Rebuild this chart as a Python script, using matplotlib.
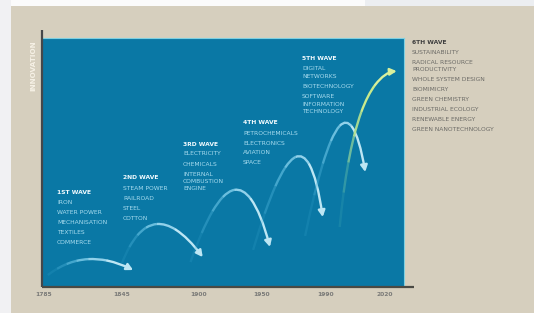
import numpy as np
import matplotlib
matplotlib.use("Agg")
import matplotlib.pyplot as plt
from matplotlib.path import Path
from matplotlib.patches import PathPatch, FancyArrowPatch, Rectangle
from matplotlib.transforms import IdentityTransform
from matplotlib.bezier import split_de_casteljau

# ---------------- data ----------------
tick_years = [1785, 1845, 1900, 1950, 1990, 2020]
wave_names = ["1ST WAVE", "2ND WAVE", "3RD WAVE", "4TH WAVE", "5TH WAVE", "6TH WAVE"]
wave_items = [
    ["IRON", "WATER POWER", "MECHANISATION", "TEXTILES", "COMMERCE"],
    ["STEAM POWER", "RAILROAD", "STEEL", "COTTON"],
    ["ELECTRICITY", "CHEMICALS", "INTERNAL\nCOMBUSTION\nENGINE"],
    ["PETROCHEMICALS", "ELECTRONICS", "AVIATION", "SPACE"],
    ["DIGITAL\nNETWORKS", "BIOTECHNOLOGY", "SOFTWARE\nINFORMATION\nTECHNOLOGY"],
    ["SUSTAINABILITY", "RADICAL RESOURCE\nPRODUCTIVITY", "WHOLE SYSTEM DESIGN",
     "BIOMIMICRY", "GREEN CHEMISTRY", "INDUSTRIAL ECOLOGY", "RENEWABLE ENERGY",
     "GREEN NANOTECHNOLOGY"],
]
start_year = [1788, 1845, 1894, 1943, 1977, 1997]
start_level = [4.8, 9.6, 10.0, 14.9, 20.5, 24.1]
mid_year = [1819, 1870, 1928, 1971, 1997, 2008]
mid_level = [11.2, 25.3, 39.0, 52.2, 64.7, 70.3]
end_year = [1853, 1903, 1955, 1988, 2010, 2026]
end_level = [6.8, 12.0, 16.1, 28.1, 46.2, 86.7]
y_label = "INNOVATION"

# ---------------- figure ----------------
W, H = 534, 313
BEIGE = "#d6cfbe"
BLUE = "#0a78a5"
fig = plt.figure(figsize=(W / 100, H / 100), dpi=100, facecolor=BEIGE)

# screenshot margins
fig.patches.append(Rectangle((0, 1 - 6 / H), 365 / W, 6 / H, transform=fig.transFigure,
                             facecolor="#fbfbfb", edgecolor="none", zorder=0))
fig.patches.append(Rectangle((365 / W, 1 - 6 / H), 1, 6 / H, transform=fig.transFigure,
                             facecolor="#eceef1", edgecolor="none", zorder=0))
fig.patches.append(Rectangle((0, 0), 11 / W, 1, transform=fig.transFigure,
                             facecolor="#f1f1f3", edgecolor="none", zorder=0))

ax_l, ax_r, ax_t, ax_b = 42, 404, 38, 287
ax = fig.add_axes([ax_l / W, 1 - ax_b / H, (ax_r - ax_l) / W, (ax_b - ax_t) / H])
ax.set_facecolor(BLUE)

# piecewise-linear time axis (ticks are not evenly spaced in years)
_ky = np.array([1700, 1785, 1845, 1900, 1950, 1990, 2020, 2100], dtype=float)
_kp = np.array([-66.5, 44, 122, 199, 262, 326, 385, 542.5], dtype=float)


def fwd(x):
    return np.interp(x, _ky, _kp)


def inv(p):
    return np.interp(p, _kp, _ky)


ax.set_xscale("function", functions=(fwd, inv))
ax.set_xlim(1783.5, 2029.7)
ax.set_ylim(0, 100)
ax.set_yticks([])
ax.set_xticks(tick_years)
ax.set_xticklabels([str(y) for y in tick_years], fontsize=4.3, color="#7a7a78",
                   fontweight="bold")
ax.tick_params(axis="x", length=0, pad=3.5)
ax.xaxis.set_minor_locator(matplotlib.ticker.NullLocator())

for s in ["left", "bottom"]:
    ax.spines[s].set_visible(False)
for s in ["top", "right"]:
    ax.spines[s].set_color("#7fd0e2")
    ax.spines[s].set_linewidth(0.8)

ax.plot([0, 0], [0, 1 + 8 / 249], transform=ax.transAxes, color="#45474a", lw=1.6,
        clip_on=False, solid_capstyle="butt", zorder=5)
ax.plot([0, 1 + 10 / 362], [0, 0], transform=ax.transAxes, color="#4a4a44", lw=1.6,
        clip_on=False, solid_capstyle="butt", zorder=5)

fig.text(33 / W, 1 - 40 / H, y_label, rotation=90, ha="center", va="top",
         fontsize=5.2, color="#f6f1e6", fontweight="bold")

# ---------------- arcs ----------------
fig.canvas.draw()
trans = ax.transData


def piece(ctrl, t0, t1):
    left, _ = split_de_casteljau(ctrl, t1)
    if t0 <= 0:
        return left
    _, right = split_de_casteljau(left, t0 / t1)
    return right


codes = [Path.MOVETO, Path.CURVE3, Path.CURVE3]
breaks = [0.0, 0.12, 0.24, 0.36, 0.5, 0.72, 1.0]
blue_cols = ["#3aa6cf", "#4cb3da", "#62bfe2", "#7ccbe8", "#9ad7ee", "#bde6f4"]
blue_alph = [0.2, 0.4, 0.65, 0.85, 0.95, 1.0]
green_cols = ["#4fb8b8", "#6ec7a8", "#98d99a", "#b6e38f", "#c9ea8c", "#d8f09c"]
green_alph = [0.2, 0.4, 0.7, 0.9, 1.0, 1.0]

for i in range(len(wave_names)):
    s = trans.transform((start_year[i], start_level[i]))
    m = trans.transform((mid_year[i], mid_level[i]))
    e = trans.transform((end_year[i], end_level[i]))
    c = 2 * m - (s + e) / 2
    ctrl = np.array([s, c, e])
    cols, alph = (green_cols, green_alph) if i == 5 else (blue_cols, blue_alph)
    for k in range(len(breaks) - 1):
        pts = piece(ctrl, breaks[k], breaks[k + 1])
        if k < len(breaks) - 2:
            p = PathPatch(Path(pts, codes), transform=IdentityTransform(), fill=False,
                          edgecolor=cols[k], alpha=alph[k], lw=1.7, capstyle="butt",
                          zorder=3)
            fig.add_artist(p)
        else:
            a = FancyArrowPatch(path=Path(pts, codes), transform=IdentityTransform(),
                                arrowstyle="-|>,head_length=0.38,head_width=0.2",
                                mutation_scale=10, color=cols[k], lw=1.7,
                                alpha=alph[k], zorder=3)
            fig.add_artist(a)

# ---------------- labels ----------------
label_xy = [(57, 193), (123, 178), (183, 144), (243, 123), (302, 59), (412, 42)]
for i, name in enumerate(wave_names):
    x, y = label_xy[i]
    outside = i == 5
    hcol = "#3f3f3f" if outside else "#f2fbff"
    icol = "#6b6a66" if outside else "#a8dcef"
    fig.text(x / W, 1 - y / H, name, fontsize=4.3, fontweight="bold", color=hcol,
             ha="left", va="center")
    for item in wave_items[i]:
        lines = item.split("\n")
        for j, ln in enumerate(lines):
            y += 10 if j == 0 else 7.5
            fig.text(x / W, 1 - y / H, ln, fontsize=4.3, color=icol, ha="left",
                     va="center")

fig.savefig("out.png", dpi=100, facecolor=BEIGE)
